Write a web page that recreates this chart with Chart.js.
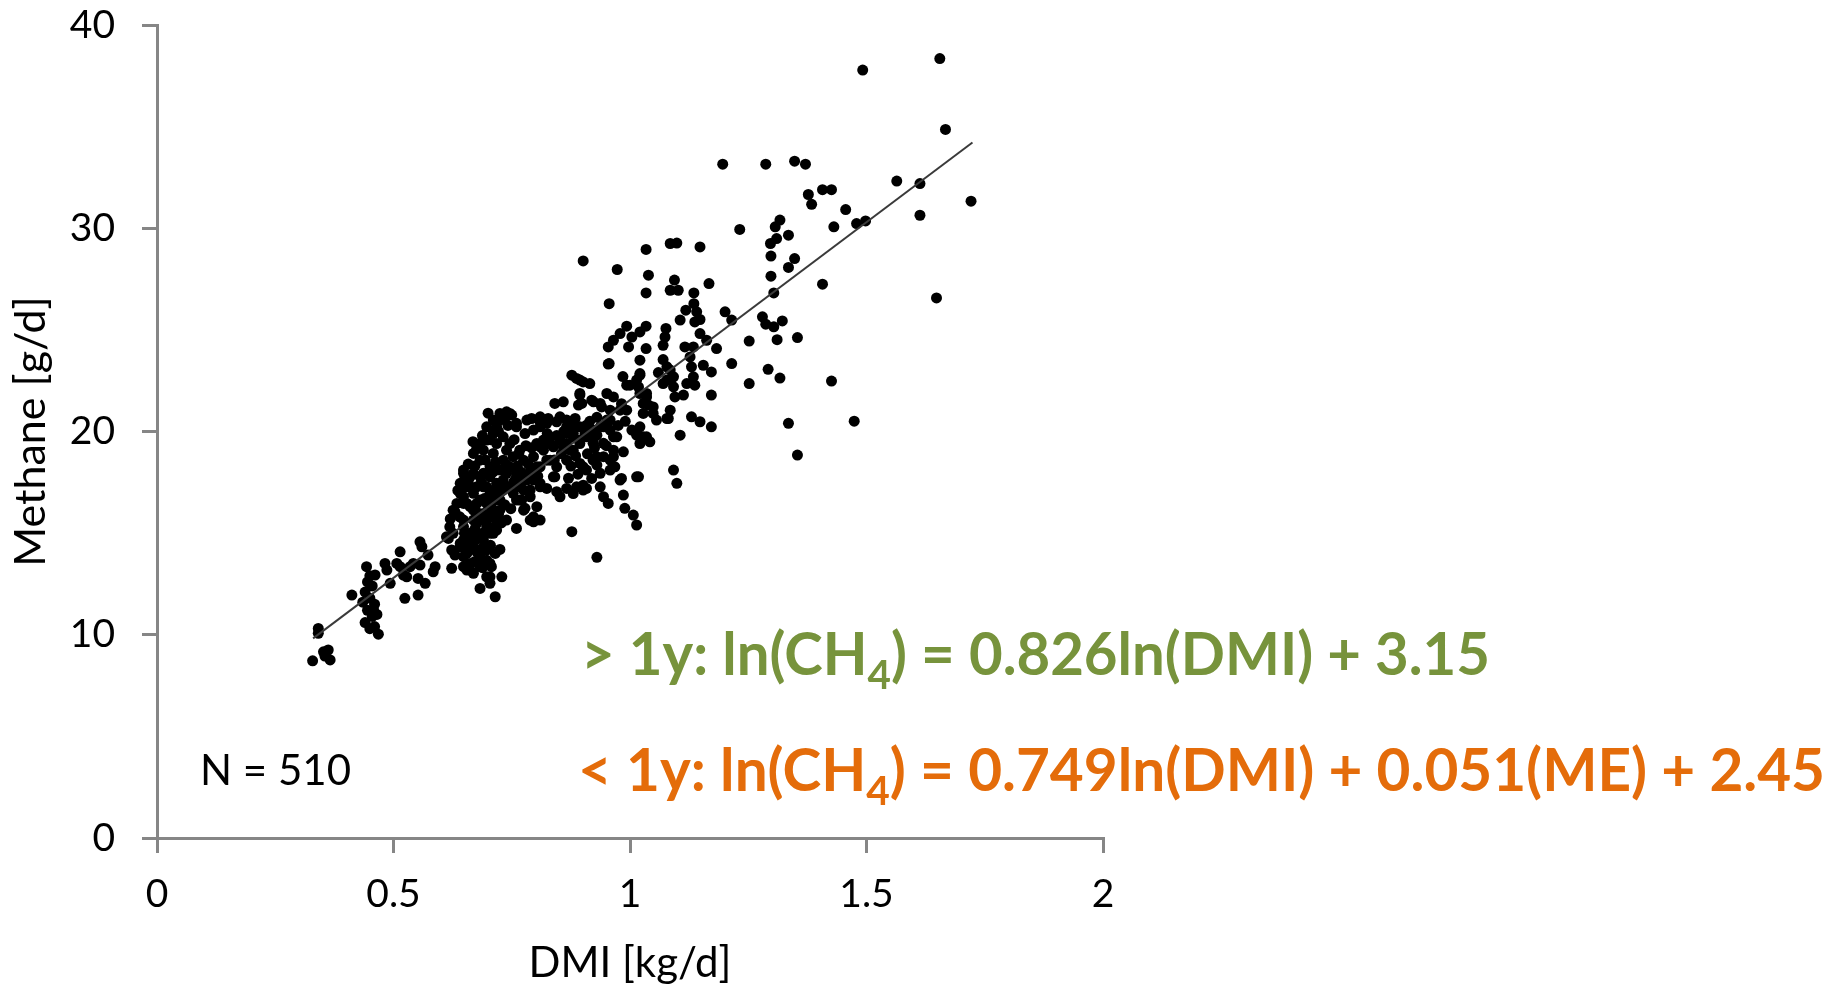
<!DOCTYPE html>
<html>
<head>
<meta charset="utf-8">
<script src="https://cdn.jsdelivr.net/npm/chart.js@4.4.1/dist/chart.umd.min.js"></script>
<style>
html,body{margin:0;padding:0;background:#fff;}
#wrap{width:1840px;height:987px;position:relative;}
</style>
</head>
<body>
<div id="wrap"><canvas id="c" width="1840" height="987"></canvas></div>
<script>
// ---- data ----
const dmi = [
0.341,0.341,0.329,0.352,0.362,0.366,0.355,0.412,
0.443,0.461,0.445,0.455,0.44,0.45,0.46,0.445,
0.455,0.44,0.46,0.45,0.465,0.435,0.45,0.458,
0.468,0.482,0.486,0.493,0.514,0.514,0.521,0.528,
0.524,0.552,0.542,0.556,0.556,0.56,0.552,0.567,
0.573,0.588,0.584,0.507,0.535,0.616,0.63,0.623,
0.63,0.623,0.648,0.648,0.662,0.683,0.715,0.704,
0.729,0.697,0.707,0.76,0.796,0.771,0.778,0.626,
0.634,0.648,0.641,0.651,0.725,0.739,0.767,0.789,
0.796,0.753,0.775,0.683,0.697,0.676,0.655,0.662,
0.683,0.704,0.718,0.648,0.669,0.69,0.711,0.725,
0.655,0.676,0.697,0.711,0.655,0.676,0.697,0.718,
0.732,0.648,0.669,0.69,0.711,0.739,0.76,0.782,
0.648,0.662,0.641,0.648,0.669,0.683,0.669,0.69,
0.676,0.697,0.711,0.718,0.704,0.718,0.704,0.69,
0.683,0.704,0.732,0.725,0.704,0.683,0.669,0.69,
0.711,0.732,0.746,0.753,0.739,0.718,0.697,0.711,
0.732,0.746,0.767,0.775,0.76,0.775,0.789,0.767,
0.76,0.683,0.676,0.697,0.711,0.725,0.746,0.76,
0.782,0.796,0.81,0.81,0.796,0.803,0.789,0.619,
0.626,0.648,0.662,0.641,0.669,0.69,0.697,0.683,
0.612,0.655,0.676,0.704,0.641,0.648,0.662,0.655,
0.669,0.683,0.697,0.704,0.739,0.75,0.725,0.718,
0.711,0.76,0.792,0.81,0.827,0.845,0.866,0.884,
0.88,0.841,0.859,0.877,0.887,0.901,0.915,0.894,
0.898,0.919,0.937,0.951,0.965,0.954,0.993,1.014,
1.021,1.078,1.085,1.092,1.07,1.035,1.028,1.049,
1.085,1.078,0.979,0.958,0.944,0.93,0.908,0.922,
0.944,0.965,1.021,1.028,1.042,1.014,0.986,1.014,
1.092,1.099,0.986,0.989,1.007,1.014,0.965,0.968,
0.982,0.93,0.937,0.919,0.901,0.944,0.954,0.877,
0.93,0.824,0.845,0.866,0.887,0.908,0.841,0.866,
0.894,0.908,0.922,0.81,0.831,0.817,0.838,0.852,
0.831,0.817,0.803,0.866,0.88,0.894,0.908,0.922,
0.88,0.866,0.894,0.789,0.803,0.796,0.81,0.775,
0.81,0.796,0.81,0.824,0.866,0.831,0.859,0.824,
0.845,0.81,0.838,0.901,0.944,0.958,0.979,0.937,
0.901,0.88,0.852,0.852,0.866,0.88,0.894,0.873,
0.905,0.922,0.951,0.937,0.958,0.972,0.965,0.93,
0.958,1.004,1.035,1.021,1.018,1.034,1.085,1.099,
1.148,0.901,0.973,1.039,1.094,1.085,1.102,1.167,
1.034,1.135,0.956,1.135,1.118,1.141,1.148,1.137,
1.106,1.201,1.215,0.993,0.979,0.965,0.954,1.034,
1.021,1.004,0.997,1.076,1.074,1.07,1.034,1.148,
1.162,1.134,1.116,1.183,0.956,1.021,1.07,1.127,
1.13,1.134,1.12,1.137,1.155,1.172,1.085,1.092,
0.894,1.021,1.0,1.018,1.078,1.095,1.113,1.172,
0.894,0.891,0.923,0.94,0.958,0.982,0.993,1.021,
1.035,1.039,1.028,1.049,1.056,1.081,1.13,1.148,
1.172,1.106,1.655,1.492,1.667,1.721,1.564,1.613,
1.613,1.196,1.287,1.348,1.371,1.377,1.384,1.407,
1.426,1.456,1.431,1.479,1.498,1.232,1.317,1.307,
1.31,1.297,1.335,1.298,1.348,1.335,1.298,1.407,
1.304,1.648,1.28,1.287,1.304,1.322,1.311,1.354,
1.252,1.215,1.292,1.317,1.252,1.426,1.335,1.474,
1.354,
0.636,0.658,0.672,0.694,0.716,0.738,0.762,0.785,
0.668,0.688,0.705,0.722,0.742,0.755,0.778,0.792,
0.662,0.678,0.692,0.708,0.722,0.735,0.748,0.745,
0.65,0.672,0.688,0.702,0.728,0.66,0.675,0.69,
0.705,0.715,0.688,0.672,0.658,0.686,0.71,0.725,
0.755,0.77,0.79,0.765,0.78,0.805,0.7,0.735,
0.825,0.845,0.86,0.855,0.84,0.875,0.885,0.91,
0.925,0.915,0.93,0.87,0.89,0.95,0.975,0.99,
0.725,0.62,0.64,0.985,1.06
];
const methane = [
10.31,10.07,8.72,9.16,9.25,8.76,8.95,11.95,
13.35,12.94,12.6,12.4,12.1,11.8,11.5,11.2,
10.9,10.6,10.4,10.3,11.0,11.6,12.9,11.2,
10.03,13.51,13.18,12.53,14.08,13.35,12.94,12.85,
11.79,11.95,13.51,13.43,14.57,14.33,12.77,12.53,
13.92,13.35,13.1,13.51,13.35,14.74,16.05,14.17,
13.92,13.27,14.66,13.35,13.18,12.28,11.87,12.85,
12.85,13.67,13.35,15.23,15.64,16.63,16.22,16.13,
16.46,16.79,17.45,17.77,16.63,15.64,16.63,15.64,
15.8,16.96,17.12,13.84,14.33,14.17,14.33,14.82,
14.82,14.99,15.15,15.64,15.64,15.64,15.8,16.13,
16.46,16.46,16.46,16.79,17.28,17.28,17.28,17.45,
17.61,17.94,17.94,17.94,18.02,17.94,17.77,17.61,
18.1,17.77,16.96,16.46,16.96,16.63,16.13,15.97,
15.48,15.31,14.99,15.48,15.8,16.63,16.96,17.28,
17.77,17.77,17.12,18.1,18.26,18.59,18.92,19.08,
18.92,18.59,18.26,18.76,19.08,19.41,19.58,19.91,
19.74,19.41,19.08,18.59,17.94,17.61,17.12,17.28,
16.63,19.41,19.17,20.23,20.56,20.89,20.89,20.23,
20.56,20.07,20.23,19.25,18.76,18.26,17.94,15.31,
14.99,15.31,14.99,14.49,14.49,14.66,14.17,13.67,
14.82,14.0,14.08,13.51,14.33,13.84,13.51,13.18,
13.02,13.35,12.85,12.53,20.97,20.81,20.56,20.23,
19.99,20.4,20.64,20.48,20.64,20.48,20.56,20.64,
20.23,21.38,21.46,22.77,22.61,22.44,22.36,21.87,
21.38,21.54,21.38,21.87,21.7,23.32,22.28,22.53,
22.85,23.18,22.53,22.2,22.36,21.87,21.38,21.21,
21.05,20.64,21.05,20.56,20.23,19.82,20.31,19.42,
19.42,19.74,20.23,19.74,19.49,19.82,19.0,17.77,
18.1,17.45,16.87,16.22,15.89,15.4,18.76,18.26,
17.69,18.35,17.94,17.69,17.36,16.79,16.46,15.07,
13.81,17.2,17.04,17.2,17.28,17.2,17.77,18.59,
18.43,18.1,18.59,18.26,18.59,19.08,19.25,19.58,
19.74,19.58,19.41,19.41,19.08,19.58,19.74,20.07,
19.91,20.07,20.23,16.79,16.3,15.56,15.64,16.13,
17.28,17.61,20.72,20.4,19.91,19.41,19.25,18.59,
18.26,17.45,17.77,18.26,18.76,18.1,17.61,17.28,
17.12,16.95,16.79,20.72,20.23,19.74,19.41,19.08,
19.91,19.58,20.56,20.23,20.07,19.74,19.08,18.76,
18.59,20.07,19.74,19.41,17.77,28.96,29.25,29.27,
29.08,28.39,27.97,27.69,27.45,26.95,26.95,27.28,
26.82,26.82,26.29,26.29,25.97,25.89,25.51,25.39,
25.48,25.89,25.48,25.18,24.82,24.49,24.16,25.18,
24.9,24.65,24.16,25.07,24.65,24.24,24.08,24.82,
24.49,24.16,24.16,24.08,23.34,23.51,23.54,23.67,
23.18,22.69,22.36,22.28,23.26,22.93,23.02,22.69,
22.53,22.77,22.28,22.19,22.53,21.7,21.79,21.79,
21.79,21.3,21.46,21.21,21.05,21.37,21.05,21.87,
21.7,21.3,20.89,20.89,20.56,20.64,20.72,20.48,
20.23,19.82,38.35,37.78,34.86,31.33,32.32,32.2,
30.64,33.15,33.15,33.3,33.15,31.66,31.18,31.9,
31.9,30.92,30.07,30.23,30.36,29.94,30.4,30.07,
29.49,29.25,29.66,28.63,28.51,28.07,27.64,27.25,
26.82,26.57,25.64,25.28,25.15,25.44,24.52,24.62,
24.45,23.34,23.06,22.63,22.36,22.48,20.4,20.51,
18.84,
17.1,18.4,18.3,18.6,18.5,18.4,18.3,18.4,
19.5,19.8,19.6,20.0,20.3,19.6,19.9,19.2,
16.3,16.0,16.7,16.2,15.9,16.4,16.2,17.3,
15.0,15.2,15.0,15.3,15.5,14.3,14.7,14.3,
14.4,14.0,13.3,13.6,17.5,17.5,17.1,17.0,
17.55,18.0,18.1,18.9,19.3,17.8,20.9,20.6,
19.9,19.8,20.0,18.9,18.6,18.3,18.8,18.9,
19.2,20.5,20.7,17.7,17.9,19.3,20.3,20.5,
14.2,15.7,15.8,22.7,22.9
];
// trend line end points
const trendDmi = [0.330, 1.724];
const trendMethane = [9.82, 34.22];
// axis ticks
const xTicks = [0, 0.5, 1, 1.5, 2];
const xTickLabels = ['0', '0.5', '1', '1.5', '2'];
const yTicks = [0, 10, 20, 30, 40];
const yTickLabels = ['0', '10', '20', '30', '40'];
// texts
const xTitle = 'DMI [kg/d]';
const yTitle = 'Methane [g/d]';
const nLabel = 'N = 510';
const eqOlder = ['> 1y: ln(CH', '4', ') = 0.826ln(DMI) + 3.15'];
const eqYounger = ['< 1y: ln(CH', '4', ') = 0.749ln(DMI) + 0.051(ME) + 2.45'];

const AXIS = '#868686';
const FONT = 'Lato';

function drawEq(ctx, parts, color, x, baseline, targetW, size) {
  ctx.save();
  const main = 'bold ' + size + 'px ' + FONT;
  const sub = 'bold ' + Math.round(size * 0.7) + 'px ' + FONT;
  ctx.font = main;
  const w1 = ctx.measureText(parts[0]).width;
  const w3 = ctx.measureText(parts[2]).width;
  ctx.font = sub;
  const w2 = ctx.measureText(parts[1]).width;
  const sx = targetW / (w1 + w2 + w3);
  ctx.translate(x, baseline);
  ctx.scale(sx, 1);
  ctx.fillStyle = color;
  ctx.textAlign = 'left';
  ctx.textBaseline = 'alphabetic';
  ctx.font = main; ctx.fillText(parts[0], 0, 0);
  ctx.font = sub; ctx.fillText(parts[1], w1, Math.round(size * 0.24));
  ctx.font = main; ctx.fillText(parts[2], w1 + w2, 0);
  ctx.restore();
}

const textPlugin = {
  id: 'texts',
  afterDraw(chart) {
    const ctx = chart.ctx;
    const ca = chart.chartArea;
    ctx.save();
    ctx.fillStyle = '#000';
    ctx.textBaseline = 'alphabetic';
    ctx.textAlign = 'center';
    ctx.font = '42px ' + FONT;
    ctx.fillText(xTitle, (ca.left + ca.right) / 2, 977);
    ctx.save();
    ctx.font = '43px ' + FONT;
    ctx.translate(45, (ca.top + ca.bottom) / 2);
    ctx.rotate(-Math.PI / 2);
    ctx.fillText(yTitle, 0, 0);
    ctx.restore();
    ctx.font = '42px ' + FONT;
    ctx.textAlign = 'left';
    ctx.fillText(nLabel, 200, 785);
    ctx.restore();
    drawEq(ctx, eqOlder, '#77933C', 581, 675, 909, 59);
    drawEq(ctx, eqYounger, '#E46C0A', 578, 791, 1247, 59);
  }
};

const points = dmi.map((x, i) => ({ x: x, y: methane[i] }));
const trend = trendDmi.map((x, i) => ({ x: x, y: trendMethane[i] }));

new Chart(document.getElementById('c'), {
  type: 'scatter',
  data: {
    datasets: [
      {
        type: 'line',
        label: 'Trend',
        data: trend,
        borderColor: '#3a3a3a',
        borderWidth: 2,
        pointRadius: 0,
        fill: false,
        order: 0
      },
      {
        type: 'scatter',
        label: 'Methane',
        data: points,
        pointRadius: 5.5,
        pointHoverRadius: 5.5,
        backgroundColor: '#000',
        borderWidth: 0,
        order: 1
      }
    ]
  },
  options: {
    responsive: false,
    animation: false,
    devicePixelRatio: 1,
    events: [],
    layout: { padding: { left: 0, top: 25, right: 737, bottom: 0 } },
    plugins: { legend: { display: false }, tooltip: { enabled: false }, title: { display: false } },
    scales: {
      x: {
        type: 'linear',
        min: 0, max: 2,
        afterBuildTicks: s => { s.ticks = xTicks.map(v => ({ value: v })); },
        afterFit: s => { s.height = 149; s.paddingLeft = 0; s.paddingRight = 0; },
        ticks: { color: '#000', font: { family: FONT, size: 39 }, padding: 18, maxRotation: 0, autoSkip: false,
                 callback: (v, i) => xTickLabels[i] },
        grid: { drawOnChartArea: false, drawTicks: true, tickLength: 15, color: AXIS, lineWidth: 3 },
        border: { display: true, color: AXIS, width: 3 }
      },
      y: {
        type: 'linear',
        min: 0, max: 40,
        afterBuildTicks: s => { s.ticks = yTicks.map(v => ({ value: v })); },
        afterFit: s => { s.width = 157; s.paddingTop = 0; s.paddingBottom = 0; },
        ticks: { color: '#000', font: { family: FONT, size: 39 }, padding: 27,
                 callback: (v, i) => yTickLabels[i] },
        grid: { drawOnChartArea: false, drawTicks: true, tickLength: 15, color: AXIS, lineWidth: 3 },
        border: { display: true, color: AXIS, width: 3 }
      }
    }
  },
  plugins: [textPlugin]
});
</script>
</body>
</html>
